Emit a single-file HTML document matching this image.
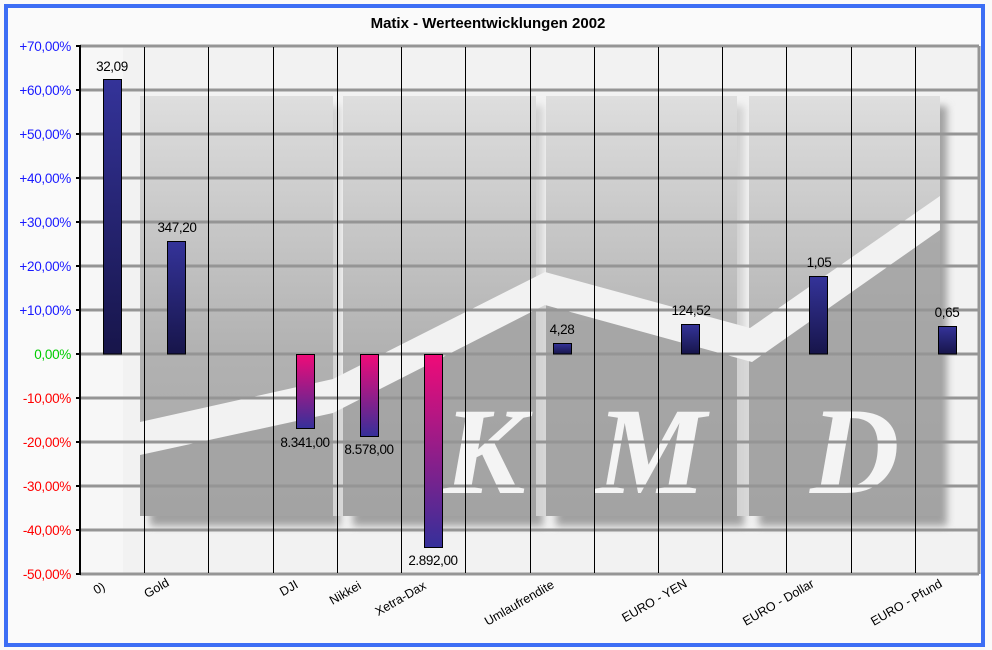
<!DOCTYPE html>
<html><head><meta charset="utf-8"><style>
html,body{margin:0;padding:0;background:#fafafa;}
svg{display:block;font-family:"Liberation Sans",sans-serif;}
</style></head><body>
<svg width="992" height="650" viewBox="0 0 992 650" xmlns="http://www.w3.org/2000/svg">
<defs>
<linearGradient id="pan" x1="0" y1="0" x2="0" y2="1">
<stop offset="0" stop-color="#dedede"/><stop offset="0.6" stop-color="#b2b2b2"/><stop offset="1" stop-color="#a6a6a6"/>
</linearGradient>
<linearGradient id="blue" x1="0" y1="0" x2="0" y2="1">
<stop offset="0" stop-color="#343399"/><stop offset="1" stop-color="#17154a"/>
</linearGradient>
<linearGradient id="pink" x1="0" y1="0" x2="0" y2="1">
<stop offset="0" stop-color="#f00a78"/><stop offset="1" stop-color="#35309a"/>
</linearGradient>
<filter id="blur"><feGaussianBlur stdDeviation="4"/></filter>
<clipPath id="pc"><rect x="140" y="96" width="800" height="420"/></clipPath>
</defs>
<rect x="0" y="0" width="992" height="650" fill="#fafafa"/>
<rect x="6" y="6" width="977" height="639" fill="#fafafa" stroke="#3d6ef5" stroke-width="4"/>
<text x="488" y="28" text-anchor="middle" font-size="15" font-weight="bold">Matix - Werteentwicklungen 2002</text>
<rect x="80" y="46" width="899" height="528" fill="#f2f2f2"/>
<rect x="80" y="46" width="43" height="528" fill="#f7f7f7"/>
<g filter="url(#blur)" fill="#a0a0a0">
<rect x="150" y="106" width="190" height="420"/>
<rect x="353" y="106" width="190" height="420"/>
<rect x="556" y="106" width="188" height="420"/>
<rect x="759" y="106" width="188" height="420"/>
</g>
<g>
<rect x="140" y="96" width="193" height="420" fill="url(#pan)"/>
<rect x="343" y="96" width="193" height="420" fill="url(#pan)"/>
<rect x="546" y="96" width="191" height="420" fill="url(#pan)"/>
<rect x="749" y="96" width="191" height="420" fill="url(#pan)"/>
</g>
<g clip-path="url(#pc)">
<polygon points="140,455 333,413 545,305 752,362 940,230 940,516 140,516" fill="#a3a3a3" opacity="0.8"/>
<polygon points="140,422 333,379 545,272 750,328 940,196 940,230 752,362 545,305 333,413 140,455" fill="#f2f2f2"/>
</g>
<rect x="333" y="96" width="10" height="420" fill="#f2f2f2" opacity="0.6"/>
<rect x="536" y="96" width="10" height="420" fill="#f2f2f2" opacity="0.6"/>
<rect x="737" y="96" width="12" height="420" fill="#f2f2f2" opacity="0.6"/>
<g font-family="'Liberation Serif',serif" font-style="italic" font-weight="bold" font-size="124" fill="#f4f4f4">
<text x="443" y="493">K</text>
<text x="596" y="493">M</text>
<text x="810" y="493">D</text>
</g>
<g stroke="#959595" stroke-width="3">
<line x1="80" y1="46" x2="979" y2="46"/>
<line x1="80" y1="90" x2="979" y2="90"/>
<line x1="80" y1="134" x2="979" y2="134"/>
<line x1="80" y1="178" x2="979" y2="178"/>
<line x1="80" y1="222" x2="979" y2="222"/>
<line x1="80" y1="266" x2="979" y2="266"/>
<line x1="80" y1="310" x2="979" y2="310"/>
<line x1="80" y1="354" x2="979" y2="354"/>
<line x1="80" y1="398" x2="979" y2="398"/>
<line x1="80" y1="442" x2="979" y2="442"/>
<line x1="80" y1="486" x2="979" y2="486"/>
<line x1="80" y1="530" x2="979" y2="530"/>
<line x1="80" y1="574" x2="979" y2="574"/>
<line x1="979" y1="46" x2="979" y2="574"/>
</g>
<g stroke="#000" stroke-width="1">
<line x1="144.5" y1="47" x2="144.5" y2="573"/>
<line x1="208.5" y1="47" x2="208.5" y2="573"/>
<line x1="273.5" y1="47" x2="273.5" y2="573"/>
<line x1="337.5" y1="47" x2="337.5" y2="573"/>
<line x1="401.5" y1="47" x2="401.5" y2="573"/>
<line x1="465.5" y1="47" x2="465.5" y2="573"/>
<line x1="530.5" y1="47" x2="530.5" y2="573"/>
<line x1="594.5" y1="47" x2="594.5" y2="573"/>
<line x1="658.5" y1="47" x2="658.5" y2="573"/>
<line x1="722.5" y1="47" x2="722.5" y2="573"/>
<line x1="786.5" y1="47" x2="786.5" y2="573"/>
<line x1="851.5" y1="47" x2="851.5" y2="573"/>
<line x1="915.5" y1="47" x2="915.5" y2="573"/>
</g>
<g stroke="#000" stroke-width="2">
<line x1="80" y1="45" x2="80" y2="575"/>
<line x1="76" y1="46" x2="80" y2="46"/><line x1="76" y1="90" x2="80" y2="90"/>
<line x1="76" y1="134" x2="80" y2="134"/><line x1="76" y1="178" x2="80" y2="178"/>
<line x1="76" y1="222" x2="80" y2="222"/><line x1="76" y1="266" x2="80" y2="266"/>
<line x1="76" y1="310" x2="80" y2="310"/><line x1="76" y1="354" x2="80" y2="354"/>
<line x1="76" y1="398" x2="80" y2="398"/><line x1="76" y1="442" x2="80" y2="442"/>
<line x1="76" y1="486" x2="80" y2="486"/><line x1="76" y1="530" x2="80" y2="530"/>
<line x1="76" y1="574" x2="80" y2="574"/>
</g>
<g font-size="13.5" text-anchor="end" letter-spacing="-0.3">
<g fill="#1a1aff">
<text x="71" y="51">+70,00%</text><text x="71" y="95">+60,00%</text>
<text x="71" y="139">+50,00%</text><text x="71" y="183">+40,00%</text>
<text x="71" y="227">+30,00%</text><text x="71" y="271">+20,00%</text>
<text x="71" y="315">+10,00%</text>
</g>
<text x="71" y="359" fill="#00cc00">0,00%</text>
<g fill="#ff0000">
<text x="71" y="403">-10,00%</text><text x="71" y="447">-20,00%</text>
<text x="71" y="491">-30,00%</text><text x="71" y="535">-40,00%</text>
<text x="71" y="579">-50,00%</text>
</g>
</g>
<g stroke="#000" stroke-width="1">
<rect x="103.5" y="79.5" width="18" height="274.5" fill="url(#blue)"/>
<rect x="167.5" y="241.5" width="18" height="112.5" fill="url(#blue)"/>
<rect x="296.5" y="354.5" width="18" height="74" fill="url(#pink)"/>
<rect x="360.5" y="354.5" width="18" height="82" fill="url(#pink)"/>
<rect x="424.5" y="354.5" width="18" height="193" fill="url(#pink)"/>
<rect x="553.5" y="343.5" width="18" height="10.5" fill="url(#blue)"/>
<rect x="681.5" y="324.5" width="18" height="29.5" fill="url(#blue)"/>
<rect x="809.5" y="276.5" width="18" height="77.5" fill="url(#blue)"/>
<rect x="938.5" y="326.5" width="18" height="27.5" fill="url(#blue)"/>
</g>
<g font-size="13.5" text-anchor="middle" letter-spacing="-0.4" fill="#000">
<text x="112" y="71">32,09</text>
<text x="177" y="232">347,20</text>
<text x="305" y="447">8.341,00</text>
<text x="369" y="454">8.578,00</text>
<text x="433" y="565">2.892,00</text>
<text x="562" y="334">4,28</text>
<text x="691" y="315">124,52</text>
<text x="819" y="267">1,05</text>
<text x="947" y="317">0,65</text>
</g>
<g font-size="12.5" text-anchor="end" fill="#000">
<text transform="translate(106,589) rotate(-30)">0)</text>
<text transform="translate(170,585) rotate(-30)">Gold</text>
<text transform="translate(299,587) rotate(-30)">DJI</text>
<text transform="translate(362,588) rotate(-30)">Nikkei</text>
<text transform="translate(427,588) rotate(-30)">Xetra-Dax</text>
<text transform="translate(555,587) rotate(-30)">Umlaufrendite</text>
<text transform="translate(688,586) rotate(-30)">EURO - YEN</text>
<text transform="translate(815,586) rotate(-30)">EURO - Dollar</text>
<text transform="translate(943,586) rotate(-30)">EURO - Pfund</text>
</g>
</svg>
</body></html>
